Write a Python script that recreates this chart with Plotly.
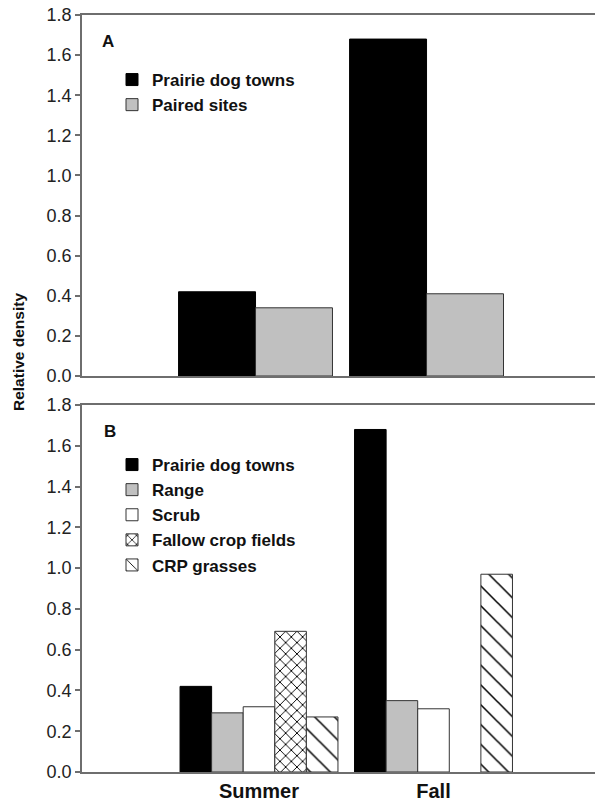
import plotly.graph_objects as go

seasons = ["Summer", "Fall"]

# Panel A
a_towns = [0.42, 1.68]
a_paired = [0.34, 0.41]

# Panel B
b_towns = [0.42, 1.68]
b_range = [0.29, 0.35]
b_scrub = [0.32, 0.31]
b_fallow = [0.69, None]
b_crp = [0.27, 0.97]

yticks = [0.0, 0.2, 0.4, 0.6, 0.8, 1.0, 1.2, 1.4, 1.6, 1.8]

FONT = "Liberation Sans, Arial, sans-serif"
LINE = "#6e6e6e"
GRAY = "#c0c0c0"
EDGE = "#333333"


def bold(s):
    return "<b>" + s + "</b>"


fig = go.Figure()

wa = 0.45
fig.add_trace(go.Bar(x=seasons, y=a_towns, name=bold("Prairie dog towns"), width=wa, offset=-wa,
                     marker=dict(color="black", line=dict(color="black", width=1)),
                     xaxis="x", yaxis="y", legend="legend"))
fig.add_trace(go.Bar(x=seasons, y=a_paired, name=bold("Paired sites"), width=wa, offset=0,
                     marker=dict(color=GRAY, line=dict(color=EDGE, width=1)),
                     xaxis="x", yaxis="y", legend="legend"))

wb = 0.181
b_series = [
    ("Prairie dog towns", b_towns, dict(color="black", line=dict(color="black", width=1))),
    ("Range", b_range, dict(color=GRAY, line=dict(color=EDGE, width=1))),
    ("Scrub", b_scrub, dict(color="white", line=dict(color=EDGE, width=1))),
    ("Fallow crop fields", b_fallow, dict(color="white", line=dict(color=EDGE, width=1),
                                          pattern=dict(shape="x", size=8, solidity=0.22,
                                                       fgcolor="black", bgcolor="white",
                                                       fgopacity=1))),
    ("CRP grasses", b_crp, dict(color="white", line=dict(color=EDGE, width=1),
                                pattern=dict(shape="\\", size=14, solidity=0.11,
                                             fgcolor="black", bgcolor="white",
                                             fgopacity=1))),
]
for i, (name, vals, marker) in enumerate(b_series):
    fig.add_trace(go.Bar(x=seasons, y=vals, name=bold(name), width=wb, offset=(i - 2.5) * wb,
                         marker=marker, xaxis="x2", yaxis="y2", legend="legend2"))

axis_common = dict(showline=True, linecolor=LINE, linewidth=1.5, mirror=True,
                   ticks="", showgrid=False, zeroline=False)
yaxis_common = dict(range=[0, 1.8], tickvals=yticks, tickformat=".1f",
                    tickprefix="<b>", ticksuffix="</b>",
                    showline=True, linecolor=LINE, linewidth=1.5,
                    ticks="outside", ticklen=5, tickcolor=LINE, tickwidth=1.5,
                    showgrid=False, zeroline=False,
                    tickfont=dict(family=FONT, size=18, color="#222"))

top_dom = [(772 - 376) / 757, 1.0]
bot_dom = [0.0, (772 - 405) / 757]

legend_font = dict(family=FONT, size=17, color="#111")

fig.update_layout(
    width=595, height=806,
    margin=dict(l=82, r=0, t=15, b=34),
    paper_bgcolor="white", plot_bgcolor="white",
    barmode="overlay",
    font=dict(family=FONT, color="#111"),
    xaxis=dict(domain=[0, 1], anchor="y", range=[-1.0146, 1.985], showticklabels=False,
               **axis_common),
    yaxis=dict(domain=top_dom, anchor="x", **yaxis_common),
    xaxis2=dict(domain=[0, 1], anchor="y2", range=[-1.0143, 1.9255], showticklabels=True,
                tickprefix="<b>", ticksuffix="</b>",
                tickfont=dict(family=FONT, size=20, color="#111"), **axis_common),
    yaxis2=dict(domain=bot_dom, anchor="x2", **yaxis_common),
    legend=dict(x=(112 - 82) / 513, y=(772 - 62) / 757, xanchor="left", yanchor="top",
                bgcolor="rgba(0,0,0,0)", font=legend_font, tracegroupgap=0),
    legend2=dict(x=(112 - 82) / 513, y=(772 - 447) / 757, xanchor="left", yanchor="top",
                 bgcolor="rgba(0,0,0,0)", font=legend_font, tracegroupgap=0),
    showlegend=True,
    annotations=[
        dict(text="<b>A</b>", x=(100 - 82) / 513, y=(772 - 41.5) / 757, xref="paper", yref="paper",
             xanchor="left", yanchor="middle", showarrow=False, font=dict(family=FONT, size=17)),
        dict(text="<b>B</b>", x=(102 - 82) / 513, y=(772 - 431) / 757, xref="paper", yref="paper",
             xanchor="left", yanchor="middle", showarrow=False, font=dict(family=FONT, size=17)),
        dict(text="<b>Relative density</b>", x=(18 - 82) / 513, y=(772 - 352) / 757,
             xref="paper", yref="paper", xanchor="center", yanchor="middle", textangle=-90,
             showarrow=False, font=dict(family=FONT, size=15.5)),
    ],
)

fig.write_html("out.html", config={"displayModeBar": False},
               post_script="document.body.style.margin='0';")
